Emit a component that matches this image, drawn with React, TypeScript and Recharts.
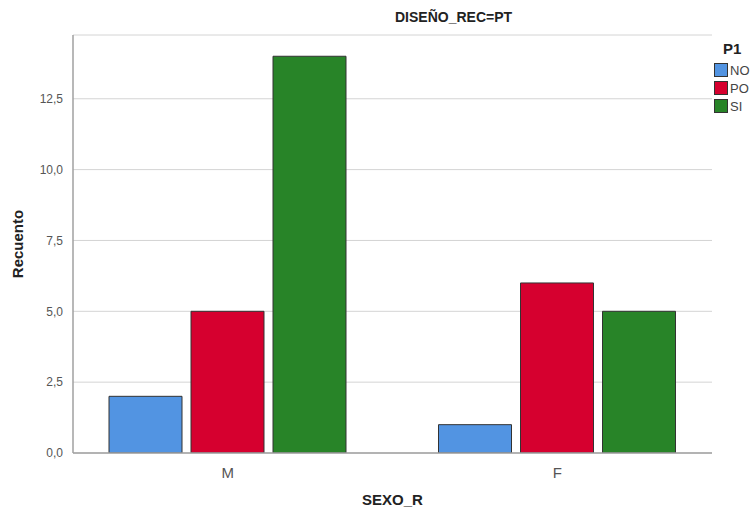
import React from 'react';
import { BarChart, Bar, XAxis, YAxis, CartesianGrid, Label } from 'recharts';

const categories = ['M', 'F'];
const seriesNO = [2, 1];
const seriesPO = [5, 6];
const seriesSI = [14, 5];
const yTicks = [0, 2.5, 5, 7.5, 10, 12.5];
const seriesNames = ['NO', 'PO', 'SI'];
const colors = ['#5294E2', '#D6002F', '#288428'];

const data = categories.map((c, i) => ({ cat: c, NO: seriesNO[i], PO: seriesPO[i], SI: seriesSI[i] }));

const font = '"Liberation Sans", Arial, sans-serif';

export default function App() {
  return (
    <div style={{ position: 'absolute', left: 0, top: 0, width: 756, height: 513, background: '#fff', overflow: 'hidden' }}>
      <div style={{ position: 'absolute', left: 395, top: 9, fontFamily: font, fontWeight: 'bold', fontSize: 14, color: '#222' }}>
        DISEÑO_REC=PT
      </div>
      <div style={{ position: 'absolute', left: 714, top: 40, fontFamily: font }}>
        <div style={{ fontWeight: 'bold', fontSize: 15, color: '#222', marginLeft: 9, marginBottom: 4 }}>P1</div>
        {seriesNames.map((n, i) => (
          <div key={n} style={{ display: 'flex', alignItems: 'center', height: 18 }}>
            <div style={{ width: 12, height: 12, background: colors[i], border: '1px solid #333', marginRight: 2 }} />
            <span style={{ fontSize: 13, color: '#444' }}>{n}</span>
          </div>
        ))}
      </div>
      <BarChart
        width={756}
        height={513}
        data={data}
        margin={{ top: 35, right: 44, bottom: 30, left: 23 }}
        barCategoryGap={46}
        barGap={9}
      >
        <CartesianGrid vertical={false} stroke="#d4d4d4" strokeWidth={1} />
        <XAxis
          dataKey="cat"
          padding={{ left: -10, right: -10 }}
          axisLine={{ stroke: '#a0a0a0', strokeWidth: 1.5 }}
          tickLine={false}
          tick={{ fill: '#555', fontSize: 15, fontFamily: font }}
          tickMargin={8}
          height={30}
        >
          <Label value="SEXO_R" position="insideBottom" offset={-22} style={{ fontFamily: font, fontWeight: 'bold', fontSize: 15, fill: '#222' }} />
        </XAxis>
        <YAxis
          width={50}
          domain={[0, 14.75]}
          ticks={yTicks}
          allowDataOverflow
          axisLine={{ stroke: '#a0a0a0', strokeWidth: 1.5 }}
          tickLine={false}
          tickMargin={4}
          tick={{ fill: '#555', fontSize: 12, fontFamily: font }}
          tickFormatter={(v: number) => v.toFixed(1).replace('.', ',')}
        >
          <Label value="Recuento" angle={-90} position="insideLeft" offset={-5} style={{ fontFamily: font, fontWeight: 'bold', fontSize: 15, fill: '#222', textAnchor: 'middle' }} />
        </YAxis>
        {seriesNames.map((n, i) => (
          <Bar key={n} dataKey={n} fill={colors[i]} stroke="#333" strokeWidth={1} isAnimationActive={false} />
        ))}
      </BarChart>
    </div>
  );
}
